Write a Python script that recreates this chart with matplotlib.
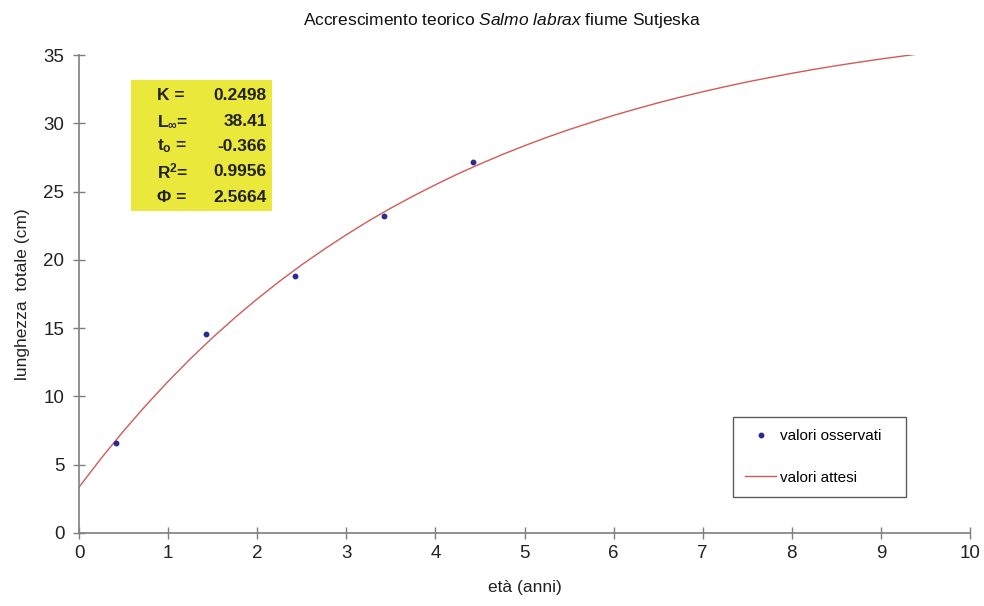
import matplotlib
matplotlib.use("Agg")
import matplotlib.pyplot as plt
from matplotlib.patches import Rectangle

plt.rcParams['font.family'] = ['Liberation Sans', 'DejaVu Sans']
plt.rcParams['mathtext.fontset'] = 'custom'
plt.rcParams['mathtext.rm'] = 'Liberation Sans'
plt.rcParams['mathtext.it'] = 'Liberation Sans:italic'
plt.rcParams['mathtext.bf'] = 'Liberation Sans:bold'

# observed lengths (cm) by age (years)
eta_oss = [0.42, 1.42, 2.42, 3.42, 4.42]
lung_oss = [6.6, 14.6, 18.8, 23.2, 27.2]

# expected curve
eta_att = [0, 0.25, 0.5, 0.75, 1, 1.25, 1.5, 1.75, 2, 2.25, 2.5, 2.75, 3,
           3.25, 3.5, 3.75, 4, 4.25, 4.5, 4.75, 5, 5.25, 5.5, 5.75, 6, 6.25,
           6.5, 6.75, 7, 7.25, 7.5, 7.75, 8, 8.25, 8.5, 8.75, 9, 9.25, 9.38]
lung_att = [3.36, 5.48, 7.47, 9.34, 11.10, 12.76, 14.31, 15.77, 17.14, 18.43,
            19.64, 20.77, 21.84, 22.85, 23.79, 24.67, 25.50, 26.29, 27.02,
            27.71, 28.36, 28.97, 29.54, 30.07, 30.58, 31.05, 31.50, 31.92,
            32.31, 32.68, 33.03, 33.35, 33.66, 33.95, 34.22, 34.47, 34.71,
            34.93, 35.04]

param_nomi = ["K =", r"L$_{\mathbf{\infty}}$=", r"t$_{\mathbf{o}}$ =", r"R$^{\mathbf{2}}$=", "Φ ="]
param_val = ["0.2498", "38.41", "-0.366", "0.9956", "2.5664"]

fig = plt.figure(figsize=(9.84, 6.06), dpi=100)
ax = fig.add_axes([0.0803, 0.1205, 0.9055, 0.7887])

ax.plot(eta_att, lung_att, color='#cf5b57', linewidth=1.0, label='valori attesi')
ax.plot(eta_oss, lung_oss, linestyle='none', marker='o', markersize=3.2,
        color='#2b2b8f', label='valori osservati')

ax.set_xlim(0, 10)
ax.set_ylim(0, 35)
ax.set_xticks(range(0, 11))
ax.set_yticks(range(0, 36, 5))
for s in ['top', 'right']:
    ax.spines[s].set_visible(False)
for s in ['left', 'bottom']:
    ax.spines[s].set_color('#7f7f7f')
    ax.spines[s].set_linewidth(1.2)
ax.tick_params(direction='inout', length=9, width=1.0, color='#7f7f7f',
               labelsize=13.5, labelcolor='#222222')
ax.tick_params(axis='x', pad=4)
ax.tick_params(axis='y', pad=6)
ax.set_xlabel("età (anni)", fontsize=12.5, color='#222222', labelpad=13)
ax.set_ylabel("lunghezza  totale (cm)", fontsize=12.5, color='#222222', labelpad=10)

fig.text(502 / 984, 1 - 20 / 606,
         r"Accrescimento teorico $\mathit{Salmo\ labrax}$ fiume Sutjeska",
         ha='center', va='center', fontsize=12.5, color='#111111')

# parameter box
ax.add_patch(Rectangle((0.0584, 0.6736), 0.1582, 0.2741, transform=ax.transAxes,
                       facecolor='#ebe83c', edgecolor='none', zorder=3))
for i, (nome, val) in enumerate(zip(param_nomi, param_val)):
    y = 1 - (96 + i * 25.3) / 606
    fig.text(157 / 984, y, nome, ha='left', va='center', fontsize=12.5,
             fontweight='bold', color='#222222', zorder=4)
    fig.text(267 / 984, y, val, ha='right', va='center', fontsize=12.5,
             fontweight='bold', color='#222222', zorder=4)

h, l = ax.get_legend_handles_labels()
leg = fig.legend(h[::-1], l[::-1], loc='lower left',
                 bbox_to_anchor=(733 / 984, 1 - 497 / 606, 173 / 984, 85 / 606),
                 mode='expand', fontsize=11, labelspacing=1.8, handlelength=2.0,
                 handletextpad=0.3, borderpad=0.8, fancybox=False, frameon=True,
                 borderaxespad=0)
leg.get_frame().set_edgecolor('#333333')
leg.get_frame().set_linewidth(1.0)

fig.savefig("out.png", dpi=100)
